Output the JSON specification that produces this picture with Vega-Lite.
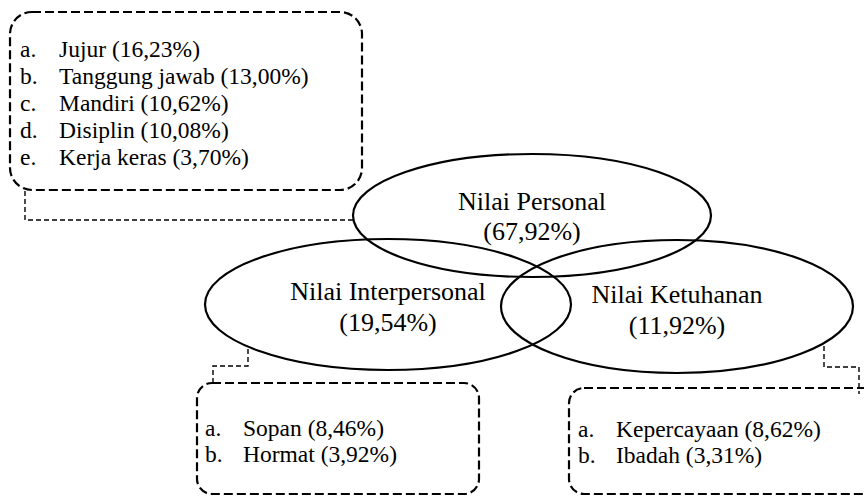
{
  "$schema": "https://vega.github.io/schema/vega-lite/v6.json",
  "width": 864,
  "height": 496,
  "autosize": {"type": "none"},
  "padding": 0,
  "background": "white",
  "config": {"view": {"stroke": null}, "font": "'Liberation Serif', 'Times New Roman', Times, 'DejaVu Serif', serif"},
  "datasets": {
    "boxes": [
      {"box": "Personal", "x1": 10, "x2": 362, "y1": 12, "y2": 190},
      {"box": "Interpersonal", "x1": 197, "x2": 479, "y1": 383, "y2": 494},
      {"box": "Ketuhanan", "x1": 569, "x2": 885, "y1": 388, "y2": 494}
    ],
    "ellipses": [
      {"nilai": "Personal", "cx": 532, "cy": 215.5},
      {"nilai": "Interpersonal", "cx": 388, "cy": 304.5},
      {"nilai": "Ketuhanan", "cx": 677, "cy": 306.5}
    ],
    "connectors": [
      {"c": "Personal", "o": 1, "x": 25, "y": 191},
      {"c": "Personal", "o": 2, "x": 25, "y": 220},
      {"c": "Personal", "o": 3, "x": 353, "y": 220},
      {"c": "Interpersonal", "o": 1, "x": 248, "y": 349},
      {"c": "Interpersonal", "o": 2, "x": 248, "y": 366},
      {"c": "Interpersonal", "o": 3, "x": 213, "y": 366},
      {"c": "Interpersonal", "o": 4, "x": 213, "y": 383},
      {"c": "Ketuhanan", "o": 1, "x": 824, "y": 346},
      {"c": "Ketuhanan", "o": 2, "x": 824, "y": 367},
      {"c": "Ketuhanan", "o": 3, "x": 859, "y": 367},
      {"c": "Ketuhanan", "o": 4, "x": 859, "y": 394}
    ],
    "titles": [
      {"label": "Nilai Personal", "x": 532, "y": 210},
      {"label": "(67,92%)", "x": 532, "y": 240},
      {"label": "Nilai Interpersonal", "x": 388, "y": 300},
      {"label": "(19,54%)", "x": 388, "y": 331},
      {"label": "Nilai Ketuhanan", "x": 677, "y": 303},
      {"label": "(11,92%)", "x": 677, "y": 334}
    ],
    "items": [
      {"letter": "a.", "item": "Jujur (16,23%)", "lx": 20, "ix": 59, "y": 57},
      {"letter": "b.", "item": "Tanggung jawab (13,00%)", "lx": 20, "ix": 59, "y": 84},
      {"letter": "c.", "item": "Mandiri (10,62%)", "lx": 20, "ix": 59, "y": 111},
      {"letter": "d.", "item": "Disiplin (10,08%)", "lx": 20, "ix": 59, "y": 138},
      {"letter": "e.", "item": "Kerja keras (3,70%)", "lx": 20, "ix": 59, "y": 165},
      {"letter": "a.", "item": "Sopan (8,46%)", "lx": 205, "ix": 243, "y": 436},
      {"letter": "b.", "item": "Hormat (3,92%)", "lx": 205, "ix": 243, "y": 462},
      {"letter": "a.", "item": "Kepercayaan (8,62%)", "lx": 578, "ix": 616, "y": 437},
      {"letter": "b.", "item": "Ibadah (3,31%)", "lx": 578, "ix": 616, "y": 463}
    ]
  },
  "layer": [
    {
      "data": {"name": "boxes"},
      "transform": [{"filter": "datum.box === 'Personal'"}],
      "mark": {"type": "rect", "fill": "transparent", "stroke": "black", "strokeWidth": 2.2, "strokeDash": [9, 4], "cornerRadius": 22},
      "encoding": {
        "x": {"field": "x1", "type": "quantitative", "scale": {"domain": [0, 864], "nice": false, "zero": false}, "axis": null},
        "x2": {"field": "x2"},
        "y": {"field": "y1", "type": "quantitative", "scale": {"domain": [0, 496], "nice": false, "zero": false, "reverse": true}, "axis": null},
        "y2": {"field": "y2"}
      }
    },
    {
      "data": {"name": "boxes"},
      "transform": [{"filter": "datum.box !== 'Personal'"}],
      "mark": {"type": "rect", "fill": "transparent", "stroke": "black", "strokeWidth": 2.2, "strokeDash": [9, 4], "cornerRadius": 15},
      "encoding": {
        "x": {"field": "x1", "type": "quantitative", "scale": {"domain": [0, 864], "nice": false, "zero": false}, "axis": null},
        "x2": {"field": "x2"},
        "y": {"field": "y1", "type": "quantitative", "scale": {"domain": [0, 496], "nice": false, "zero": false, "reverse": true}, "axis": null},
        "y2": {"field": "y2"}
      }
    },
    {
      "data": {"name": "connectors"},
      "mark": {"type": "line", "stroke": "black", "strokeWidth": 1.4, "strokeDash": [5, 3]},
      "encoding": {
        "x": {"field": "x", "type": "quantitative", "scale": {"domain": [0, 864], "nice": false, "zero": false}, "axis": null},
        "y": {"field": "y", "type": "quantitative", "scale": {"domain": [0, 496], "nice": false, "zero": false, "reverse": true}, "axis": null},
        "detail": {"field": "c"},
        "order": {"field": "o", "type": "quantitative"}
      }
    },
    {
      "data": {"name": "ellipses"},
      "transform": [{"filter": "datum.nilai === 'Personal'"}],
      "mark": {"type": "point", "filled": false, "opacity": 1, "stroke": "black", "strokeWidth": 2.2, "size": 128164,
        "shape": "M-1,0C-1,-0.1898,-0.5523,-0.3436,0,-0.3436C0.5523,-0.3436,1,-0.1898,1,0C1,0.1898,0.5523,0.3436,0,0.3436C-0.5523,0.3436,-1,0.1898,-1,0Z"},
      "encoding": {
        "x": {"field": "cx", "type": "quantitative", "scale": {"domain": [0, 864], "nice": false, "zero": false}, "axis": null},
        "y": {"field": "cy", "type": "quantitative", "scale": {"domain": [0, 496], "nice": false, "zero": false, "reverse": true}, "axis": null}
      }
    },
    {
      "data": {"name": "ellipses"},
      "transform": [{"filter": "datum.nilai === 'Interpersonal'"}],
      "mark": {"type": "point", "filled": false, "opacity": 1, "stroke": "black", "strokeWidth": 2.2, "size": 133956,
        "shape": "M-1,0C-1,-0.1977,-0.5523,-0.3579,0,-0.3579C0.5523,-0.3579,1,-0.1977,1,0C1,0.1977,0.5523,0.3579,0,0.3579C-0.5523,0.3579,-1,0.1977,-1,0Z"},
      "encoding": {
        "x": {"field": "cx", "type": "quantitative", "scale": {"domain": [0, 864], "nice": false, "zero": false}, "axis": null},
        "y": {"field": "cy", "type": "quantitative", "scale": {"domain": [0, 496], "nice": false, "zero": false, "reverse": true}, "axis": null}
      }
    },
    {
      "data": {"name": "ellipses"},
      "transform": [{"filter": "datum.nilai === 'Ketuhanan'"}],
      "mark": {"type": "point", "filled": false, "opacity": 1, "stroke": "black", "strokeWidth": 2.2, "size": 123904,
        "shape": "M-1,0C-1,-0.2087,-0.5523,-0.3778,0,-0.3778C0.5523,-0.3778,1,-0.2087,1,0C1,0.2087,0.5523,0.3778,0,0.3778C-0.5523,0.3778,-1,0.2087,-1,0Z"},
      "encoding": {
        "x": {"field": "cx", "type": "quantitative", "scale": {"domain": [0, 864], "nice": false, "zero": false}, "axis": null},
        "y": {"field": "cy", "type": "quantitative", "scale": {"domain": [0, 496], "nice": false, "zero": false, "reverse": true}, "axis": null}
      }
    },
    {
      "data": {"name": "titles"},
      "mark": {"type": "text", "font": "'Liberation Serif', 'Times New Roman', Times, 'DejaVu Serif', serif", "fontSize": 26, "align": "center", "baseline": "alphabetic", "color": "black"},
      "encoding": {
        "x": {"field": "x", "type": "quantitative", "scale": {"domain": [0, 864], "nice": false, "zero": false}, "axis": null},
        "y": {"field": "y", "type": "quantitative", "scale": {"domain": [0, 496], "nice": false, "zero": false, "reverse": true}, "axis": null},
        "text": {"field": "label"}
      }
    },
    {
      "data": {"name": "items"},
      "mark": {"type": "text", "font": "'Liberation Serif', 'Times New Roman', Times, 'DejaVu Serif', serif", "fontSize": 23.5, "align": "left", "baseline": "alphabetic", "color": "black"},
      "encoding": {
        "x": {"field": "lx", "type": "quantitative", "scale": {"domain": [0, 864], "nice": false, "zero": false}, "axis": null},
        "y": {"field": "y", "type": "quantitative", "scale": {"domain": [0, 496], "nice": false, "zero": false, "reverse": true}, "axis": null},
        "text": {"field": "letter"}
      }
    },
    {
      "data": {"name": "items"},
      "mark": {"type": "text", "font": "'Liberation Serif', 'Times New Roman', Times, 'DejaVu Serif', serif", "fontSize": 23.5, "align": "left", "baseline": "alphabetic", "color": "black"},
      "encoding": {
        "x": {"field": "ix", "type": "quantitative", "scale": {"domain": [0, 864], "nice": false, "zero": false}, "axis": null},
        "y": {"field": "y", "type": "quantitative", "scale": {"domain": [0, 496], "nice": false, "zero": false, "reverse": true}, "axis": null},
        "text": {"field": "item"}
      }
    }
  ]
}
